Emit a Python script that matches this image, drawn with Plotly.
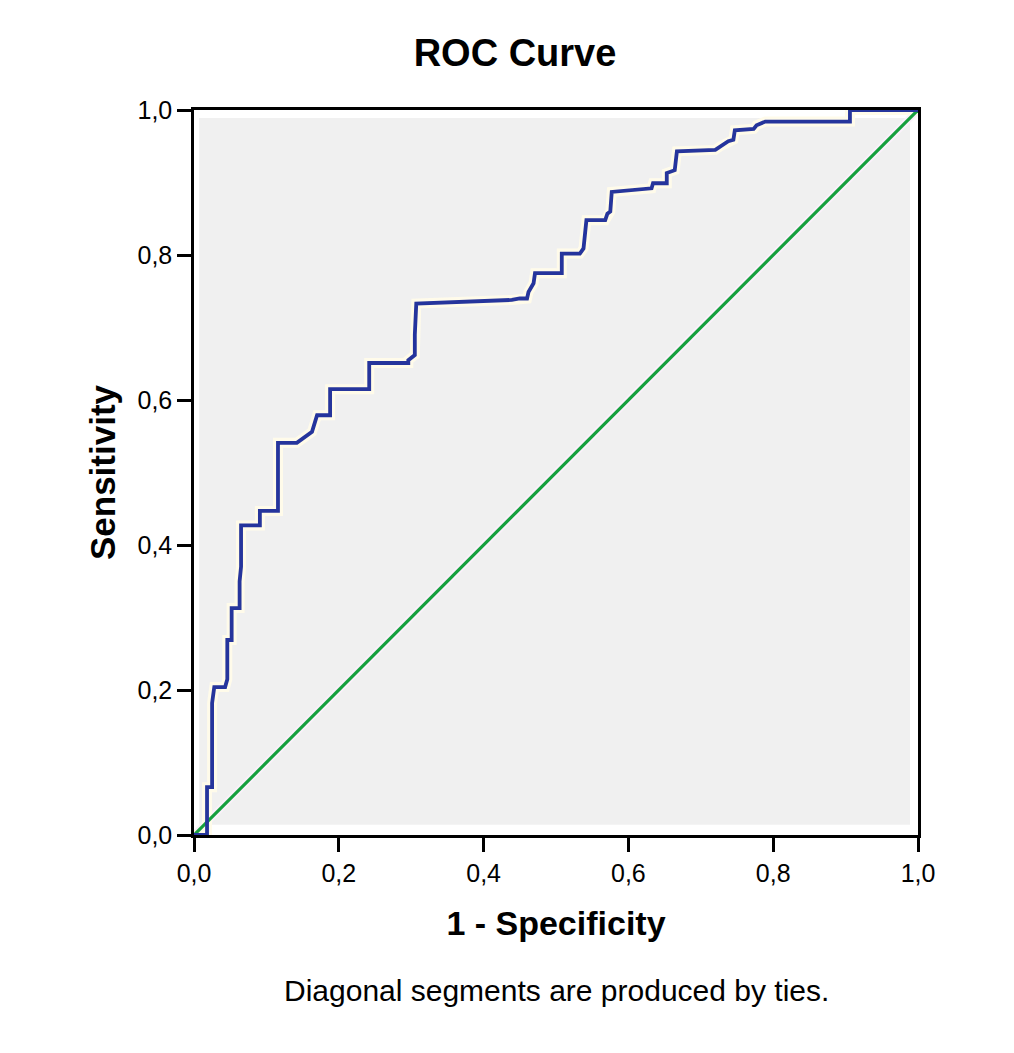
import plotly.graph_objects as go

# ROC curve (1 - specificity, sensitivity)
fpr = [0.0, 0.018, 0.018, 0.025, 0.025, 0.028, 0.043, 0.046, 0.046, 0.052, 0.052,
       0.063, 0.063, 0.065, 0.065, 0.091, 0.091, 0.116, 0.116, 0.142, 0.163, 0.165,
       0.170, 0.188, 0.188, 0.242, 0.242, 0.296, 0.296, 0.305, 0.305, 0.307, 0.439,
       0.450, 0.460, 0.462, 0.469, 0.471, 0.508, 0.508, 0.533, 0.538, 0.542, 0.568,
       0.571, 0.575, 0.577, 0.632, 0.634, 0.653, 0.653, 0.664, 0.667, 0.720, 0.727,
       0.738, 0.745, 0.747, 0.773, 0.777, 0.789, 0.906, 0.906, 1.0]
tpr = [0.0, 0.0, 0.066, 0.066, 0.182, 0.204, 0.204, 0.215, 0.269, 0.269, 0.313,
       0.313, 0.350, 0.370, 0.427, 0.427, 0.447, 0.447, 0.541, 0.541, 0.556, 0.563,
       0.579, 0.579, 0.615, 0.615, 0.651, 0.651, 0.655, 0.662, 0.690, 0.733, 0.738,
       0.740, 0.740, 0.749, 0.761, 0.775, 0.775, 0.802, 0.802, 0.809, 0.848, 0.848,
       0.857, 0.860, 0.887, 0.892, 0.899, 0.899, 0.913, 0.917, 0.943, 0.945, 0.950,
       0.957, 0.959, 0.972, 0.974, 0.979, 0.984, 0.984, 1.0, 1.0]

ref_x = [0, 1]
ref_y = [0, 1]

tick_vals = [0, 0.2, 0.4, 0.6, 0.8, 1.0]

fig = go.Figure()
# pale halos first, then the lines on top
fig.add_trace(go.Scatter(x=ref_x, y=ref_y, mode="lines",
                         line=dict(color="#fbf1fb", width=7), hoverinfo="skip"))
fig.add_trace(go.Scatter(x=fpr, y=tpr, mode="lines",
                         line=dict(color="#fffbea", width=10), hoverinfo="skip"))
fig.add_trace(go.Scatter(x=ref_x, y=ref_y, mode="lines",
                         line=dict(color="#16a03e", width=3.2)))
fig.add_trace(go.Scatter(x=fpr, y=tpr, mode="lines",
                         line=dict(color="#26359c", width=3.8)))

# light grey panel inside the frame
fig.add_shape(type="rect", x0=0.007, x1=0.989, y0=0.014, y1=0.989,
              xref="x", yref="y", layer="below",
              fillcolor="#f0f0f0", line=dict(width=0))

axis_style = dict(range=[0, 1], tickvals=tick_vals, tickformat=".1f",
                  showgrid=False, zeroline=False, ticks="outside",
                  ticklen=14, tickwidth=2.5, tickcolor="black",
                  showline=True, linecolor="black", linewidth=2.5, mirror=True,
                  tickfont=dict(family="Liberation Sans", size=25, color="black"))

fig.update_layout(
    width=1014, height=1053,
    separators=",.",
    showlegend=False,
    paper_bgcolor="white",
    plot_bgcolor="white",
    margin=dict(l=186, r=104, t=102, b=226),
    title=dict(text="<b>ROC Curve</b>", x=0.5, xanchor="center", y=0.958,
               yanchor="middle",
               font=dict(family="Liberation Sans", size=38, color="black")),
    xaxis=dict(axis_style, title=dict(text="<b>1 - Specificity</b>", standoff=26,
               font=dict(family="Liberation Sans", size=34, color="black"))),
    yaxis=dict(axis_style, title=dict(text="<b>Sensitivity</b>", standoff=12,
               font=dict(family="Liberation Sans", size=35, color="black"))),
    annotations=[dict(text="Diagonal segments are produced by ties.",
                      x=0.5, y=-0.215, xref="paper", yref="paper",
                      xanchor="center", yanchor="middle", showarrow=False,
                      font=dict(family="Liberation Sans", size=30, color="black"))],
)

fig.write_html("out.html")
